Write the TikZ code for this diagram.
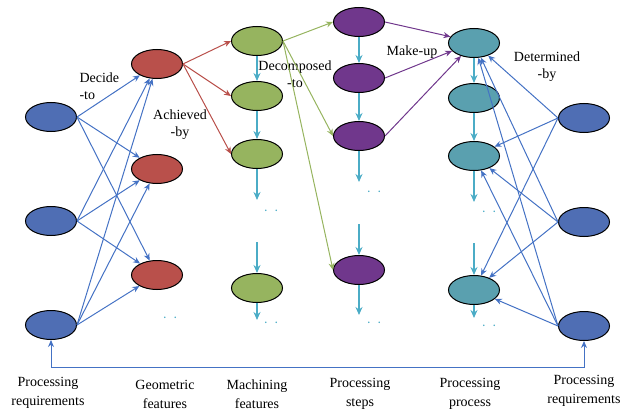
\documentclass[tikz,border=0pt]{standalone}
\usepackage{fontspec}
\setmainfont{Liberation Serif}
\usetikzlibrary{shapes.geometric,arrows.meta}

\definecolor{reqblue}{RGB}{79,110,180}
\definecolor{linkblue}{RGB}{68,114,196}
\definecolor{geored}{RGB}{185,80,75}
\definecolor{machgreen}{RGB}{150,180,95}
\definecolor{steppurple}{RGB}{112,55,140}
\definecolor{procteal}{RGB}{90,160,175}
\definecolor{flowteal}{RGB}{75,172,198}

\begin{document}
\begin{tikzpicture}[x=1pt,y=-1pt,
    blob/.style={ellipse, draw=black, line width=1pt, minimum width=51pt, minimum height=29pt, inner sep=0pt},
    link/.style={line width=1pt, -{Stealth[length=7pt,width=6pt]}},
    flow/.style={flowteal, line width=1.3pt, -{Stealth[length=8pt,width=7pt]}},
    gap/.style={text=flowteal, font=\bfseries},
    lbl/.style={align=center, font=\fontsize{14}{17}\selectfont},
    axis/.style={align=center, font=\fontsize{14}{19}\selectfont}]
    \useasboundingbox (0,0) rectangle (624,412);

    % processing requirements, left
    \node[blob, fill=reqblue] (lreq1) at (51,117) {};
    \node[blob, fill=reqblue] (lreq2) at (51,221) {};
    \node[blob, fill=reqblue] (lreq3) at (51,325) {};

    % geometric features
    \node[blob, fill=geored] (geo1) at (157,64) {};
    \node[blob, fill=geored] (geo2) at (157,169) {};
    \node[blob, fill=geored] (geo3) at (157,275) {};
    \node[gap] (geodots) at (170,318) {.\hspace{8pt}.};

    % machining features
    \node[blob, fill=machgreen] (mach1) at (257,41) {};
    \node[blob, fill=machgreen] (mach2) at (257,96) {};
    \node[blob, fill=machgreen] (mach3) at (257,154) {};
    \coordinate (mach3end) at (257,200);
    \node[gap] (machdots1) at (271,211) {.\hspace{8pt}.};
    \coordinate (mach4top) at (257,242);
    \node[blob, fill=machgreen] (mach4) at (257,288) {};
    \coordinate (mach4end) at (257,320);
    \node[gap] (machdots2) at (271,323) {.\hspace{8pt}.};

    % processing steps
    \node[blob, fill=steppurple] (step1) at (359,22) {};
    \node[blob, fill=steppurple] (step2) at (359,78) {};
    \node[blob, fill=steppurple] (step3) at (359,136) {};
    \coordinate (step3end) at (359,182);
    \node[gap] (stepdots1) at (374,192) {.\hspace{8pt}.};
    \coordinate (step4top) at (359,224);
    \node[blob, fill=steppurple] (step4) at (359,270) {};
    \coordinate (step4end) at (359,315);
    \node[gap] (stepdots2) at (374,323) {.\hspace{8pt}.};

    % processing process
    \node[blob, fill=procteal] (proc1) at (474,43) {};
    \node[blob, fill=procteal] (proc2) at (474,98) {};
    \node[blob, fill=procteal] (proc3) at (474,156) {};
    \coordinate (proc3end) at (474,202);
    \node[gap] (procdots1) at (489,212) {.\hspace{8pt}.};
    \coordinate (proc4top) at (474,243);
    \node[blob, fill=procteal] (proc4) at (474,290) {};
    \coordinate (proc4end) at (474,318);
    \node[gap] (procdots2) at (489,326) {.\hspace{8pt}.};

    % processing requirements, right
    \node[blob, fill=reqblue] (rreq1) at (584,118) {};
    \node[blob, fill=reqblue] (rreq2) at (584,222) {};
    \node[blob, fill=reqblue] (rreq3) at (584,326) {};

    % relation labels
    \node[lbl, align=left, anchor=west] (decide) at (76,86) {Decide\\-to};
    \node[lbl] (achieved) at (180,125) {Achieved\\-by};
    \node[lbl] (decomposed) at (295,74) {Decomposed\\-to};
    \node[lbl] (makeup) at (412,52) {Make-up};
    \node[lbl] (determined) at (547,67) {Determined\\-by};

    % column titles
    \node[axis] (tlreq) at (48,393) {Processing\\requirements};
    \node[axis] (tgeo) at (165,394) {Geometric\\features};
    \node[axis] (tmach) at (257,394) {Machining\\features};
    \node[axis] (tstep) at (360,394) {Processing\\steps};
    \node[axis] (tproc) at (470,394) {Processing\\process};
    \node[axis] (trreq) at (584,391) {Processing\\requirements};

    % requirements -> geometric features
    \foreach \i in {1,2,3}
        \foreach \j in {1,2,3}
            \draw[link, linkblue] (lreq\i.east) -- (geo\j);

    % geometric -> machining
    \foreach \j in {1,2,3}
        \draw[link, geored] (geo1.east) -- (mach\j.west);

    % machining -> steps
    \draw[link, machgreen] (mach1.east) -- (step1.west);
    \draw[link, machgreen] (mach1.east) -- (step3.west);
    \draw[link, machgreen] (mach1.east) -- (step4.west);

    % steps -> process
    \draw[link, steppurple] (step1.east) -- (proc1.165);
    \draw[link, steppurple] (step2.east) -- (proc1.200);
    \draw[link, steppurple] (step3.east) -- (proc1.225);

    % requirements -> process
    \foreach \i in {1,2,3}
        \foreach \j in {1,3,4}
            \draw[link, linkblue] (rreq\i.west) -- (proc\j);

    % sequence inside the columns
    \draw[flow] (mach1) -- (mach2);
    \draw[flow] (mach2) -- (mach3);
    \draw[flow] (mach3) -- (mach3end);
    \draw[flow] (mach4top) -- (mach4);
    \draw[flow] (mach4) -- (mach4end);
    \draw[flow] (step1) -- (step2);
    \draw[flow] (step2) -- (step3);
    \draw[flow] (step3) -- (step3end);
    \draw[flow] (step4top) -- (step4);
    \draw[flow] (step4) -- (step4end);
    \draw[flow] (proc1) -- (proc2);
    \draw[flow] (proc2) -- (proc3);
    \draw[flow] (proc3) -- (proc3end);
    \draw[flow] (proc4top) -- (proc4);
    \draw[flow] (proc4) -- (proc4end);

    % feedback between both requirement columns
    \draw[linkblue, line width=1pt, {Stealth[length=7pt,width=6pt]}-{Stealth[length=7pt,width=6pt]}]
        (lreq3.south) -- ++(0,27) -| (rreq3.south);
\end{tikzpicture}
\end{document}
